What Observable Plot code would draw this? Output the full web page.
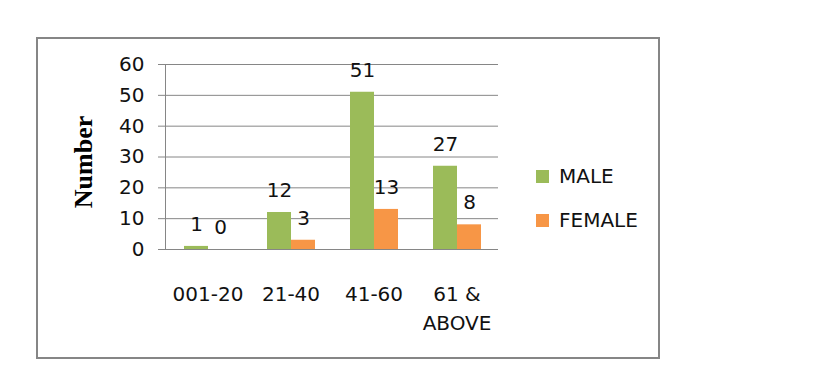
<!DOCTYPE html>
<html>
<head>
<meta charset="utf-8">
<script src="https://cdn.jsdelivr.net/npm/d3@7"></script>
<script src="https://cdn.jsdelivr.net/npm/@observablehq/plot@0.6"></script>
<style>
  html, body { margin: 0; padding: 0; background: #fff; }
  #wrap { position: relative; width: 826px; height: 373px; overflow: hidden; background: #fff; }
  #frame { position: absolute; left: 36px; top: 37px; width: 620px; height: 318px; border: 2px solid #868686; box-sizing: content-box; }
  #chart { position: absolute; left: 0; top: 0; }
  #ylabel { position: absolute; left: 84px; top: 162px; transform: translate(-50%, -50%) rotate(-90deg);
    font-family: "Liberation Serif", "DejaVu Serif", serif; font-weight: bold; font-size: 26px; color: #000; white-space: nowrap; }
  #legend { position: absolute; left: 536px; top: 164px; }
  #legend [class$="-swatch"] { margin-bottom: 19px; }
</style>
</head>
<body>
<div id="wrap">
  <div id="frame"></div>
  <div id="chart"></div>
  <div id="ylabel">Number</div>
  <div id="legend"></div>
</div>
<script>
const categories = ["001-20", "21-40", "41-60", "61 & ABOVE"];
const categoryLabels = ["001-20", "21-40", "41-60", "61 &\nABOVE"];
const series = ["MALE", "FEMALE"];
const maleValues = [1, 12, 51, 27];
const femaleValues = [0, 3, 13, 8];
const yTicks = [0, 10, 20, 30, 40, 50, 60];
const colors = ["#9BBB59", "#F79646"];

const data = [];
categories.forEach((c, i) => {
  data.push({category: c, sex: "MALE", value: maleValues[i]});
  data.push({category: c, sex: "FEMALE", value: femaleValues[i]});
});

const font = "'DejaVu Sans', sans-serif";
const labelMap = new Map(categories.map((c, i) => [c, categoryLabels[i]]));

const chart = Plot.plot({
  width: 826,
  height: 373,
  marginLeft: 165,
  marginRight: 328,
  marginTop: 64,
  marginBottom: 124,
  style: {fontFamily: font, fontSize: "20px", color: "#111", background: "transparent", overflow: "visible"},
  fx: {domain: categories, padding: 0, label: null},
  x: {domain: series, paddingInner: 0, paddingOuter: 0.7, axis: null},
  y: {domain: [0, 60], label: null},
  color: {domain: series, range: colors},
  marks: [
    Plot.gridY(yTicks, {stroke: "#868686", strokeOpacity: 1, strokeWidth: 1}),
    Plot.axisY({ticks: yTicks, tickSize: 8, tickPadding: 14, stroke: "#868686", fontSize: 20, fill: "#111", label: null}),
    Plot.axisFx({anchor: "bottom", tickSize: 0, tickPadding: 31, fontSize: 20, fill: "#111", lineHeight: 1.45, label: null,
      tickFormat: d => labelMap.get(d)}),
    Plot.barY(data, {fx: "category", x: "sex", y: "value", fill: "sex"}),
    Plot.text(data, {fx: "category", x: "sex", y: "value", text: d => String(d.value), dy: -22, fontSize: 20, fill: "#111"})
  ]
});

// vertical axis line drawn from the y scale
const yScale = chart.scale("y");
document.getElementById("chart").appendChild(chart);
const svg = d3.select(chart.tagName === "svg" ? chart : chart.querySelector("svg"));
svg.append("line")
  .attr("x1", 165.5).attr("x2", 165.5)
  .attr("y1", yScale.apply(60)).attr("y2", yScale.apply(0))
  .attr("stroke", "#868686");

const legend = Plot.legend({
  color: {domain: series, range: colors},
  legend: "swatches",
  columns: 1,
  swatchSize: 13,
  style: {fontFamily: font, fontSize: "20px", color: "#111"}
});
document.getElementById("legend").appendChild(legend);
</script>
</body>
</html>
